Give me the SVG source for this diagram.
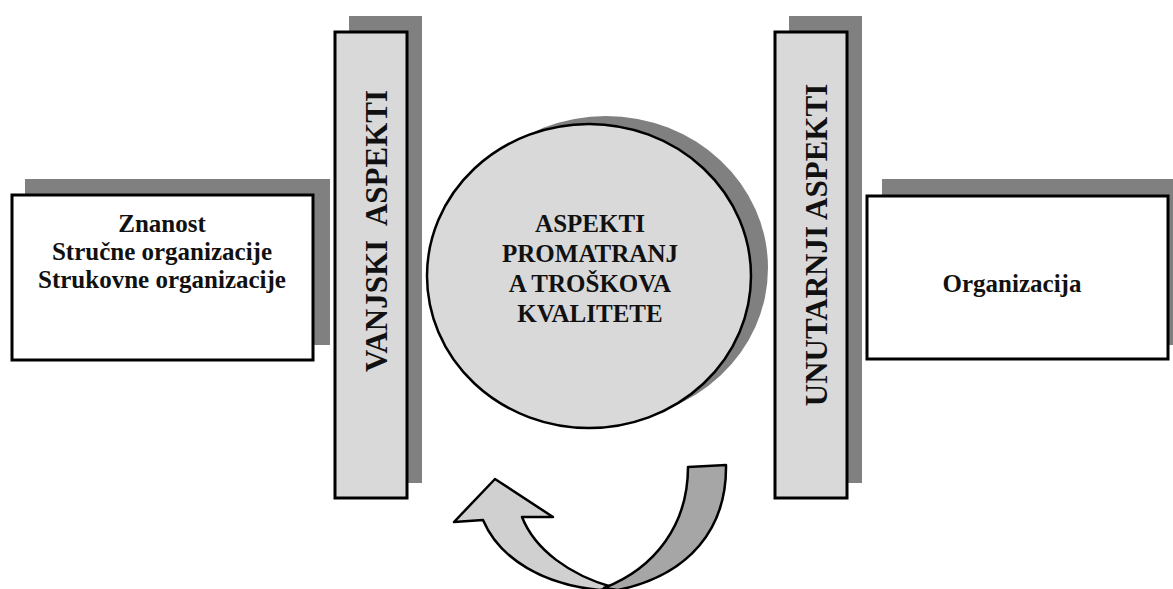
<svg xmlns="http://www.w3.org/2000/svg" width="1173" height="589" viewBox="0 0 1173 589">
<style>
  .shadow { fill: #808080; }
  .box { fill: #ffffff; stroke: #000; stroke-width: 3; }
  .bar { fill: #d9d9d9; stroke: #000; stroke-width: 3; }
  .lbl { font-family: "Liberation Serif", "Times New Roman", serif; font-weight: bold; fill: #111; text-anchor: middle; }
  .arrow { stroke: #000; stroke-width: 2.5; stroke-linejoin: round; }
</style>
<rect width="1173" height="589" fill="#ffffff"/>

<g id="node-znanost">
  <rect class="shadow" x="25" y="179" width="305" height="166"/>
  <rect class="box" x="12" y="195" width="301" height="165"/>
  <text class="lbl" font-size="25" x="162" y="232">Znanost</text>
  <text class="lbl" font-size="25" x="162" y="260">Stručne organizacije</text>
  <text class="lbl" font-size="25" x="162" y="288">Strukovne organizacije</text>
</g>

<g id="node-vanjski">
  <rect class="shadow" x="349" y="16" width="73" height="467"/>
  <rect class="bar" x="335" y="32" width="72" height="466"/>
  <text class="lbl" font-size="31" transform="translate(387,231) rotate(-90)" x="0" y="0" xml:space="preserve">VANJSKI  ASPEKTI</text>
</g>

<g id="node-aspekti">
  <ellipse class="shadow" cx="606" cy="268" rx="162" ry="152"/>
  <ellipse cx="589" cy="276" rx="162" ry="152" fill="#d9d9d9" stroke="#000" stroke-width="2.5"/>
  <text class="lbl" font-size="25" x="590" y="232">ASPEKTI</text>
  <text class="lbl" font-size="25" x="590" y="262">PROMATRANJ</text>
  <text class="lbl" font-size="25" x="590" y="292">A TROŠKOVA</text>
  <text class="lbl" font-size="25" x="590" y="322">KVALITETE</text>
</g>

<g id="node-unutarnji">
  <rect class="shadow" x="789" y="16" width="73" height="467"/>
  <rect class="bar" x="775" y="32" width="72" height="466"/>
  <text class="lbl" font-size="31" transform="translate(827,245) rotate(-90)" x="0" y="0">UNUTARNJI ASPEKTI</text>
</g>

<g id="node-organizacija">
  <rect class="shadow" x="882" y="179" width="300" height="166"/>
  <rect class="box" x="867" y="196" width="301" height="163"/>
  <text class="lbl" font-size="25" x="1012" y="292">Organizacija</text>
</g>

<g id="connectors">
  <path class="arrow" fill="#d0d0d0" d="M 483,520 C 500,560 545,585 600,590 L 612,587 C 570,575 535,550 522,517 L 553,517 L 495,479 L 454,522 Z"/>
  <path class="arrow" fill="#a6a6a6" d="M 688,467 L 726,465 C 727,528 690,575 618,590 L 604,588 C 655,568 688,525 688,467 Z"/>
</g>
</svg>
